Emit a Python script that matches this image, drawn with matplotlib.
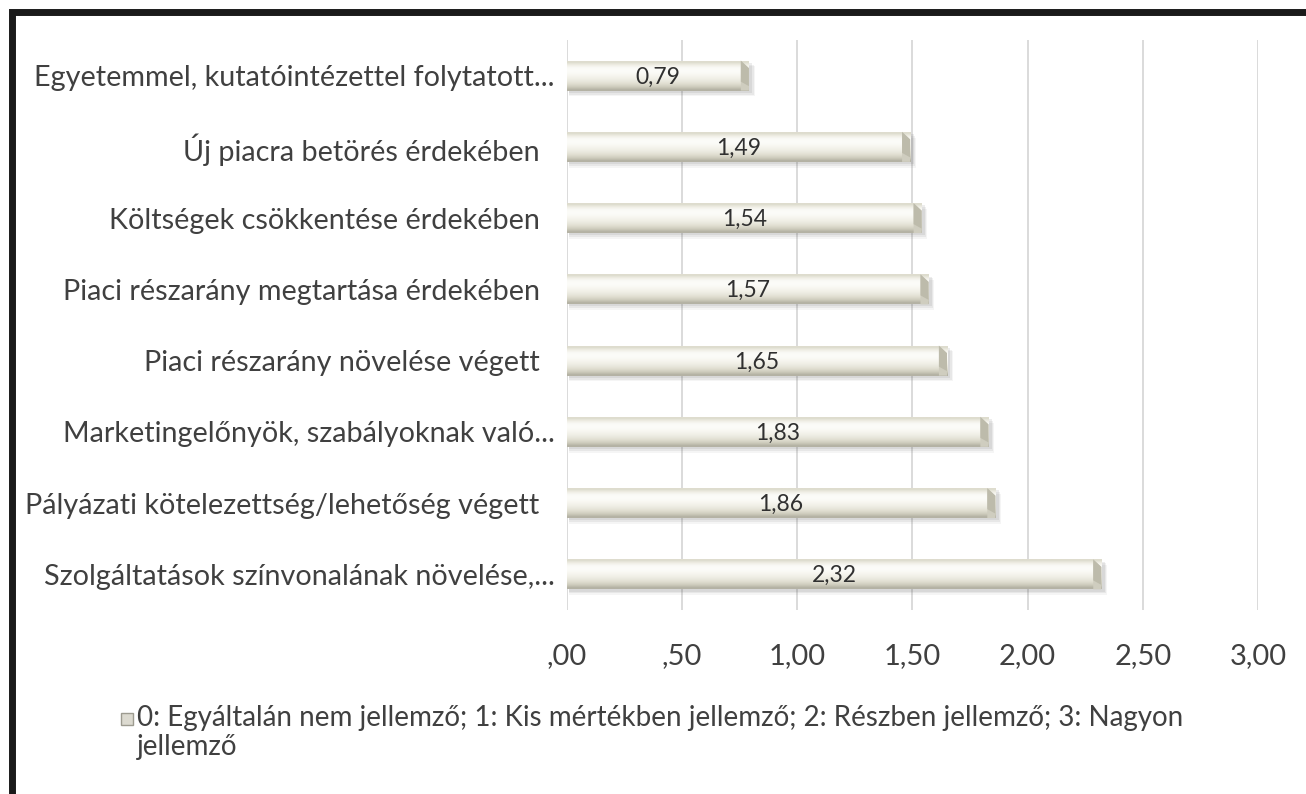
import matplotlib.pyplot as plt
import matplotlib.patches as mpatches
import numpy as np

plt.rcParams['font.family'] = ['Lato', 'DejaVu Sans']

# mean scores, top to bottom
categories = [
    'Egyetemmel, kutatóintézettel folytatott...',
    'Új piacra betörés érdekében  ',
    'Költségek csökkentése érdekében  ',
    'Piaci részarány megtartása érdekében  ',
    'Piaci részarány növelése végett  ',
    'Marketingelőnyök, szabályoknak való...',
    'Pályázati kötelezettség/lehetőség végett  ',
    'Szolgáltatások színvonalának növelése,...',
]
values = [0.79, 1.49, 1.54, 1.57, 1.65, 1.83, 1.86, 2.32]
xticks = [0, 0.5, 1.0, 1.5, 2.0, 2.5, 3.0]
xticklabels = [',00', ',50', '1,00', '1,50', '2,00', '2,50', '3,00']
legend_text = ('0: Egyáltalán nem jellemző; 1: Kis mértékben jellemző; '
               '2: Részben jellemző; 3: Nagyon\njellemző')

text_col = '#404040'

fig = plt.figure(figsize=(13.06, 7.94), dpi=100)
ax = fig.add_axes([0.4341, 0.2317, 0.5291, 0.7179])

# vertical shading of the cylinder-like bars
shade = np.array([
    [222, 220, 206], [240, 239, 230], [250, 250, 246], [252, 252, 249],
    [250, 250, 245], [246, 245, 238], [240, 239, 230], [232, 231, 220],
    [222, 220, 206], [205, 203, 188], [180, 178, 164],
]) / 255.0
grad = shade[:, None, :]

h = 0.42
for i, v in enumerate(values):
    top, bot = i - h / 2, i + h / 2
    # soft shadow underneath
    for k, a in enumerate([0.10, 0.08, 0.06]):
        off = 0.03 + k * 0.025
        ax.add_patch(mpatches.Rectangle((0.01, top + off), v + 0.005 * (k + 1), h,
                                        facecolor='#555555', alpha=a,
                                        edgecolor='none', zorder=2))
    ax.imshow(grad, extent=[0, v, bot, top], aspect='auto',
              interpolation='bilinear', zorder=3)
    # bevelled right end
    bev = 0.035
    ax.add_patch(mpatches.Polygon([(v - bev, top), (v, top + h * 0.25), (v, bot), (v - bev, bot)],
                                  closed=True, facecolor='#cfcdbf', edgecolor='none',
                                  zorder=4))
    ax.add_patch(mpatches.Polygon([(v - bev, top), (v, top + h * 0.25), (v, bot - h * 0.15), (v - bev, bot - h * 0.3)],
                                  closed=True, facecolor='#bdbbab', edgecolor='none',
                                  zorder=4))
    ax.text(v / 2, i + 0.02, f'{v:.2f}'.replace('.', ','), ha='center', va='center',
            fontsize=16.5, color='#303030', zorder=5)

ax.set_xlim(0, 3.0)
ax.set_ylim(len(values) - 0.5, -0.5)
ax.set_yticks(range(len(categories)))
ax.set_yticklabels(categories, fontsize=20.7, color=text_col)
ax.set_xticks(xticks)
ax.set_xticklabels(xticklabels, fontsize=21, color=text_col)
ax.tick_params(axis='both', length=0)
ax.tick_params(axis='y', pad=9)
ax.tick_params(axis='x', pad=24)
ax.grid(axis='x', color='#d4d4d4', linewidth=1.2, zorder=0)
ax.set_axisbelow(True)
for s in ax.spines.values():
    s.set_visible(False)

# legend: small key square followed by the wrapped scale description
fig.patches.append(mpatches.Rectangle((121 / 1306, 1 - 725 / 794), 12 / 1306, 12 / 794,
                                      transform=fig.transFigure,
                                      facecolor='#dcdad0', edgecolor='#9d9b90',
                                      linewidth=1.0))
fig.text(137 / 1306, 1 - 705 / 794, legend_text, ha='left', va='top',
         fontsize=20, color=text_col, linespacing=1.12)

# outer frame
fig.patches.append(mpatches.Rectangle((0.009, -0.05), 1.05, 1.035,
                                      transform=fig.transFigure, fill=False,
                                      edgecolor='#1a1a1a', linewidth=5))

fig.savefig('out.png', dpi=100, facecolor='white')
